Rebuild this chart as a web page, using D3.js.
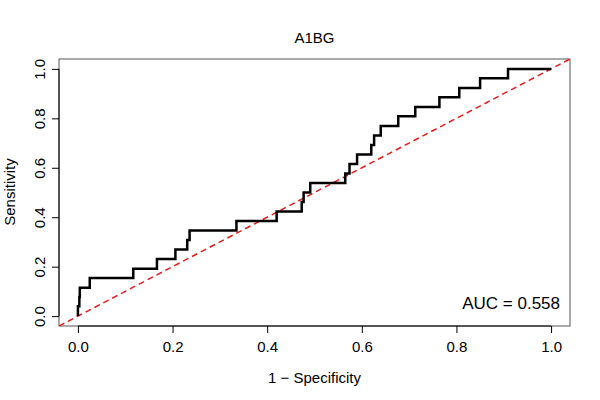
<!DOCTYPE html><html><head><meta charset="utf-8"><script src="https://cdn.jsdelivr.net/npm/d3@7"></script>
<style>body{margin:0;background:#fff}text{font-family:"Liberation Sans",Arial,sans-serif}</style></head><body><svg id="c" width="600" height="400"></svg>
<script>
const fpr=[0,0,0.003,0.004,0.025,0.117,0.167,0.206,0.231,0.236,0.335,0.42,0.473,0.477,0.491,0.565,0.574,0.59,0.62,0.626,0.64,0.677,0.713,0.764,0.806,0.85,0.909,1];
const tpr=[0,0.04,0.077,0.115,0.154,0.192,0.231,0.269,0.308,0.346,0.385,0.423,0.462,0.5,0.538,0.577,0.615,0.654,0.692,0.731,0.769,0.808,0.846,0.885,0.923,0.962,1,1];
const ticks=[0,0.2,0.4,0.6,0.8,1.0];
const title="A1BG", auc="AUC = 0.558";
const svg=d3.select("#c");
const L=59,R=570,T=59,B=326;
const x=d3.scaleLinear().domain([-0.04,1.04]).range([L,R]);
const y=d3.scaleLinear().domain([-0.04,1.04]).range([B,T]);
svg.append("defs").append("clipPath").attr("id","cp").append("rect").attr("x",L).attr("y",T).attr("width",R-L).attr("height",B-T);
svg.append("rect").attr("x",L).attr("y",T).attr("width",R-L).attr("height",B-T).attr("fill","none").attr("stroke","#555");
const fmt=d=>d.toFixed(1);
const xa=svg.append("g").attr("transform",`translate(0,${B})`).call(d3.axisBottom(x).tickValues(ticks).tickFormat(fmt).tickSize(7).tickPadding(8));
const ya=svg.append("g").attr("transform",`translate(${L},0)`).call(d3.axisLeft(y).tickValues(ticks).tickFormat(fmt).tickSize(7).tickPadding(5));
[xa,ya].forEach(a=>{a.select(".domain").remove();a.selectAll("text").attr("font-size",15).attr("fill","#000");a.selectAll("line").attr("stroke","#000");});
ya.selectAll(".tick text").attr("transform","rotate(-90)").attr("text-anchor","middle").attr("x",0).attr("dy",0).attr("y",-14);
svg.append("line").attr("x1",x(0)).attr("x2",x(1)).attr("y1",B).attr("y2",B).attr("stroke","#000");
svg.append("line").attr("y1",y(0)).attr("y2",y(1)).attr("x1",L).attr("x2",L).attr("stroke","#000");
svg.append("line").attr("clip-path","url(#cp)").attr("x1",x(-0.04)).attr("y1",y(-0.04)).attr("x2",x(1.04)).attr("y2",y(1.04)).attr("stroke","#e41a1c").attr("stroke-width",1.5).attr("stroke-dasharray","6,4");
const line=d3.line().x((d,i)=>x(fpr[i])).y((d,i)=>y(tpr[i])).curve(d3.curveStepAfter);
svg.append("path").attr("d",line(fpr)).attr("fill","none").attr("stroke","#000").attr("stroke-width",2.5);
svg.append("text").attr("x",(L+R)/2).attr("y",43).attr("text-anchor","middle").attr("font-size",15).text(title);
svg.append("text").attr("x",(L+R)/2).attr("y",383).attr("text-anchor","middle").attr("font-size",15).text("1 − Specificity");
svg.append("text").attr("transform","translate(15,192) rotate(-90)").attr("text-anchor","middle").attr("font-size",15).text("Sensitivity");
svg.append("text").attr("x",560).attr("y",309).attr("text-anchor","end").attr("font-size",17).text(auc);
</script></body></html>
